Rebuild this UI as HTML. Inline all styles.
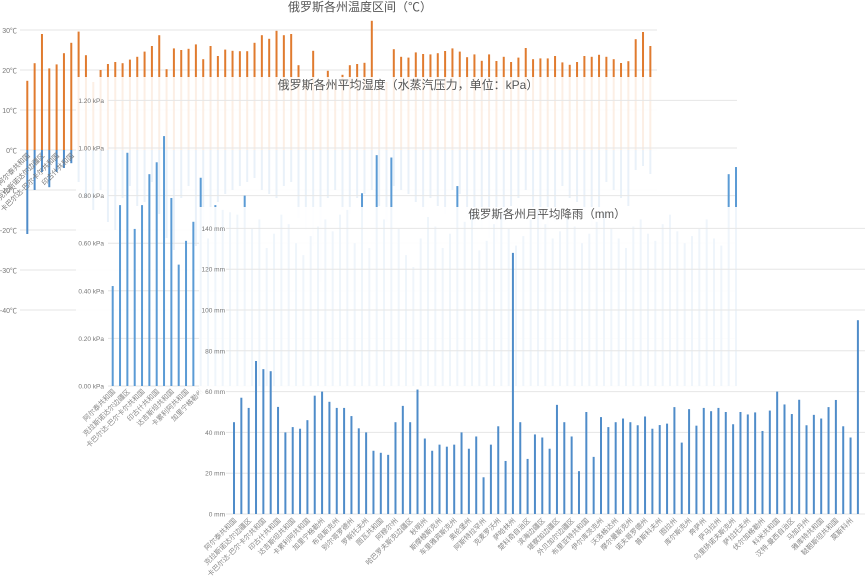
<!DOCTYPE html>
<html><head><meta charset="utf-8">
<style>
html,body{margin:0;padding:0;background:#fff;}
svg{display:block;font-family:"Liberation Sans","Noto Sans CJK SC",sans-serif;}
</style></head>
<body>
<svg id="chart" width="865" height="581" viewBox="0 0 865 581" xmlns="http://www.w3.org/2000/svg">
<g id="temp"></g>
<rect x="76" y="77" width="789" height="504" fill="#fff" fill-opacity="0.88"/>
<g id="hum"></g>
<rect x="199" y="207" width="666" height="374" fill="#fff" fill-opacity="0.9"/>
<g id="rain"></g>
</svg>
<script>
const regions = ["阿尔泰共和国","克拉斯诺达尔边疆区","卡巴尔达-巴尔卡尔共和国","印古什共和国","达吉斯坦共和国","卡累利阿共和国","加里宁格勒州","布良斯克州","别尔哥罗德州","罗斯托夫州","图瓦共和国","阿穆尔州","哈巴罗夫斯克边疆区","秋明州","斯摩棱斯克州","车里雅宾斯克州","奥伦堡州","阿斯特拉罕州","克麦罗沃州","萨哈林州","楚科奇自治区","滨海边疆区","堪察加边疆区","外贝加尔边疆区","布里亚特共和国","伊尔库茨克州","沃洛格达州","摩尔曼斯克州","诺夫哥罗德州","普斯科夫州","图拉州","库尔斯克州","奔萨州","萨马拉州","乌里扬诺夫斯克州","萨拉托夫州","伏尔加格勒州","科米共和国","汉特-曼西自治区","马加丹州","雅库特共和国","鞑靼斯坦共和国","莫斯科州"];
const tempMax = [17.3,21.7,29,20.4,21.4,24.2,26.8,29.6,23.7,17,20,21.5,22,21.7,22.6,23.3,24.6,26,28.7,20.2,25.4,25,25.3,26.4,22.7,26,23.5,25.1,24.8,24.7,24.7,26.8,28.7,27.8,29.8,28.7,29,21.2,17,24.8,17,19.8,17,18.8,21.2,21.5,21.8,32.3,17,17,25.2,23.3,23.1,24.4,24,23.9,24.2,24.75,25.4,24.6,23.2,23.9,22.3,23.9,22.25,23.3,22,23.1,25.5,22.7,22.9,22.9,23.5,21.9,21.3,22,23.5,23.3,23.8,23.3,22.7,21.75,22.2,27.7,29.5,26];
const tempMin = [-21,-10,-5.5,-9.3,-5.5,-4.5,-3.3,-8,-12,-15,-10,-18,-20,-12,-9,-14,-13,-8,-16,-22,-25,-12,-9,-24,-22,-20,-13,-11,-10,-9,-8,-7,-10,-11,-12,-9,-8,-17,-20,-24,-33,-12,-10,-15,-16,-12,-11,-10,-14,-18,-9,-10,-11,-13,-15,-12,-14,-16,-10,-11,-17,-19,-20,-22,-23,-18,-14,-12,-10,-15,-26,-20,-18,-9,-12,-13,-16,-19,-21,-8,-10,-12,-14,-5,-4,-6];
const tempTicks = [30,20,10,0,-10,-20,-30,-40];
const humVals = [0.42,0.76,0.98,0.66,0.76,0.89,0.94,1.05,0.79,0.51,0.61,0.69,0.875,0.62,0.76,0.74,0.73,0.72,0.80,0.66,0.70,0.58,0.64,0.72,0.68,0.60,0.55,0.63,0.67,0.70,0.65,0.72,0.74,0.60,0.81,0.58,0.97,0.70,0.96,0.66,0.55,0.50,0.62,0.71,0.67,0.58,0.64,0.84,0.69,0.73,0.57,0.61,0.68,0.72,0.66,0.59,0.63,0.70,0.74,0.68,0.62,0.65,0.71,0.67,0.60,0.64,0.69,0.73,0.66,0.62,0.58,0.67,0.70,0.64,0.61,0.68,0.72,0.65,0.60,0.63,0.66,0.70,0.62,0.59,0.89,0.92];
const humTicks = [1.20,1.00,0.80,0.60,0.40,0.20,0.00];
const rainVals = [45,57,52,75,71,70,52.5,40,42.6,41.8,46,58,60,55,52,52,48,42,40,31,30,29,45,53,45,61,37,31,34,33,34,40,32,38,18,34,43,26,128,45,27,39,37.5,32,53.5,45,38,21,50,28,47.5,42.6,45,46.8,45,43.5,47.8,41.8,43.6,44.3,52.4,35,51.4,43.3,52,50.4,52,50,44,50,48.8,49.8,40.7,50.7,60,53.7,49,56,43.5,48.6,46.8,52.4,55.9,43,37.5,95];
const rainTicks = [0,20,40,60,80,100,120,140];

const NS="http://www.w3.org/2000/svg";
function mk(parent,tag,attrs,text){const e=document.createElementNS(NS,tag);for(const k in attrs)e.setAttribute(k,attrs[k]);if(text!==undefined)e.textContent=text;parent.appendChild(e);return e;}

// Temperature chart
const tG=document.getElementById('temp');
const tY=v=>150-v*4, tX=i=>27.3+i*7.33;
let t=mk(tG,'text',{x:360,y:11,'font-size':12,fill:'#555','text-anchor':'middle'},'俄罗斯各州温度区间（℃）');

tempTicks.forEach(v=>{
  let l=mk(tG,'line',{x1:20,x2:657,y1:tY(v),y2:tY(v),stroke:'#e6e6e6','stroke-width':1});
  
  let tx=mk(tG,'text',{x:17,y:tY(v)+3,'font-size':7,fill:'#777','text-anchor':'end'},v+'℃');
  
});
tempMax.forEach((v,i)=>{
  let r=mk(tG,'rect',{x:tX(i)-1,y:tY(v),width:2,height:tY(0)-tY(v),fill:'#e07b2f'});
  
});
tempMin.forEach((v,i)=>{
  let r=mk(tG,'rect',{x:tX(i)-1,y:tY(0),width:2,height:tY(v)-tY(0),fill:'#4f8cc9'});
  
});
for(let i=0;i<8;i+=2){
  let tx=mk(tG,'text',{x:tX(i)+3,y:156,'font-size':7,fill:'#777','text-anchor':'end',transform:`rotate(-45 ${tX(i)+3} 156)`},regions[i/2]);
  
}

// Humidity chart
const hG=document.getElementById('hum');
const hY=v=>386-v*238, hX=i=>112.7+i*7.333;
t=mk(hG,'text',{x:408,y:89,'font-size':12,fill:'#555','text-anchor':'middle'},'俄罗斯各州平均湿度（水蒸汽压力，单位：kPa）');

humTicks.forEach(v=>{
  let l=mk(hG,'line',{x1:108,x2:737,y1:hY(v),y2:hY(v),stroke:'#e6e6e6','stroke-width':1});
  
  let tx=mk(hG,'text',{x:104,y:hY(v)+2.5,'font-size':6.5,fill:'#777','text-anchor':'end'},v.toFixed(2)+' kPa');
  
});
humVals.forEach((v,i)=>{
  let r=mk(hG,'rect',{x:hX(i)-1,y:hY(v),width:2,height:hY(0)-hY(v),fill:'#5b9bd5'});
  
});
for(let i=0;i<14;i+=2){
  let tx=mk(hG,'text',{x:hX(i)+3,y:392,'font-size':7,fill:'#888','text-anchor':'end',transform:`rotate(-45 ${hX(i)+3} 392)`},regions[i/2]);
  
}

// Rain chart
const rG=document.getElementById('rain');
const rY=v=>514-v*2.04, rX=i=>234+i*7.34;
t=mk(rG,'text',{x:547,y:218,'font-size':11.5,fill:'#555','text-anchor':'middle'},'俄罗斯各州月平均降雨（mm）');

rainTicks.forEach(v=>{
  let l=mk(rG,'line',{x1:226,x2:865,y1:rY(v),y2:rY(v),stroke:'#e6e6e6','stroke-width':1});
  
  let tx=mk(rG,'text',{x:225,y:rY(v)+2.5,'font-size':6.5,fill:'#777','text-anchor':'end'},v+' mm');
  
});
rainVals.forEach((v,i)=>{
  let r=mk(rG,'rect',{x:rX(i)-1,y:rY(v),width:2,height:rY(0)-rY(v),fill:'#4f8cc9'});
  
});
for(let i=0;i<rainVals.length;i+=2){
  let tx=mk(rG,'text',{x:rX(i)+3,y:521,'font-size':7,fill:'#888','text-anchor':'end',transform:`rotate(-45 ${rX(i)+3} 521)`},regions[(i/2)%regions.length]);
  
}
</script>
</body></html>
